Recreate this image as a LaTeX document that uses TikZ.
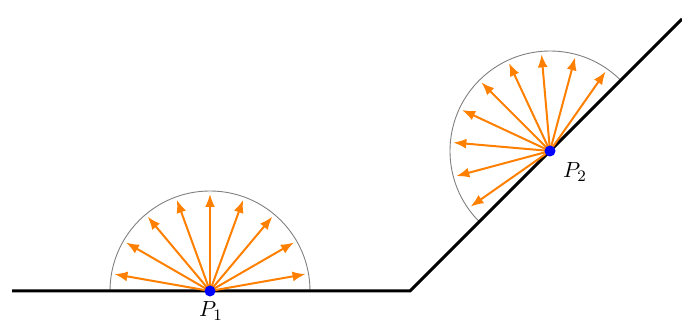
\documentclass[tikz,border=0pt]{standalone}
\usetikzlibrary{arrows.meta,calc}
\definecolor{rayor}{RGB}{255,128,0}
\begin{document}
\begin{tikzpicture}[x=0.5pt,y=0.5pt,
  ground/.style={line width=1.5pt,black},
  hemi/.style={line width=0.45pt,gray},
  ray/.style={line width=1pt,rayor,-{Latex[length=6.5pt,width=5pt]}},
  dot/.style={circle,fill=blue,inner sep=0pt,minimum size=5.5pt},
  lbl/.style={font=\fontsize{11}{13}\selectfont}]
\useasboundingbox (0,0) rectangle (682,325);
\coordinate (A) at (12,34);
\coordinate (B) at (410,34);
\coordinate (C) at (682,306);
\coordinate (P1) at (210,34);
\coordinate (P2) at (550,174);
\draw[hemi] (310,34) arc[start angle=0,end angle=180,radius=100];
\draw[hemi] ($(P2)+(45:100)$) arc[start angle=45,end angle=225,radius=100];
\draw[ground] (A) -- (B) -- (C);
\foreach \a in {10,30,...,170} \draw[ray] (P1) -- ++(\a:97);
\foreach \a in {55,75,...,215} \draw[ray] (P2) -- ++(\a:97);
\node[dot] (d1) at (P1) {};
\node[dot] (d2) at (P2) {};
\node[lbl] (l1) at (211,14) {$P_1$};
\node[lbl] (l2) at (575,153) {$P_2$};
\end{tikzpicture}
\end{document}
